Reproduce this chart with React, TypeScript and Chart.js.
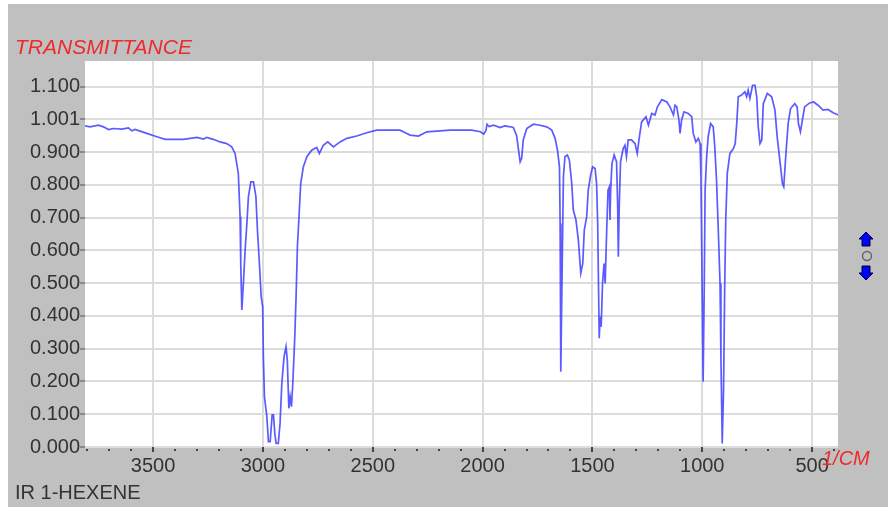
import { useEffect, useRef } from 'react';
import { Chart, registerables } from 'chart.js';

Chart.register(...registerables);

const wavenumbers = [
  3810, 3787, 3749, 3726, 3703, 3681, 3642, 3612, 3597, 3582, 3529, 3483, 3445, 3362, 3301, 3271, 3256, 3226,
  3195, 3165, 3142, 3127, 3112, 3104, 3101, 3096, 3089, 3081, 3073, 3066, 3055, 3043, 3032, 3025, 3016, 3008,
  3001, 2998, 2993, 2982, 2975, 2967, 2958, 2952, 2946, 2940, 2930, 2922, 2914, 2904, 2895, 2889, 2882, 2876,
  2870, 2864, 2855, 2849, 2843, 2835, 2828, 2816, 2800, 2778, 2755, 2743, 2725, 2705, 2679, 2649, 2618, 2573,
  2527, 2482, 2376, 2345, 2330, 2292, 2254, 2148, 2050, 2010, 1995, 1985, 1980, 1970, 1950, 1920, 1900, 1880,
  1860, 1845, 1835, 1829, 1822, 1815, 1799, 1769, 1739, 1708, 1685, 1670, 1659, 1650, 1647, 1644, 1639, 1635,
  1632, 1625, 1614, 1605, 1594, 1587, 1575, 1564, 1553, 1544, 1537, 1526, 1519, 1508, 1499, 1488, 1481, 1476,
  1472, 1469, 1465, 1460, 1454, 1447, 1442, 1435, 1429, 1423, 1420, 1417, 1411, 1401, 1390, 1385, 1382, 1378,
  1372, 1360, 1352, 1345, 1337, 1322, 1306, 1296, 1286, 1276, 1256, 1245, 1230, 1215, 1204, 1184, 1161, 1147,
  1131, 1124, 1116, 1106, 1101, 1094, 1083, 1064, 1048, 1041, 1029, 1018, 1010, 1006, 1002, 996, 991, 987,
  980, 973, 962, 950, 943, 935, 927, 919, 915, 909, 903, 898, 893, 886, 874, 858, 850, 843,
  836, 821, 806, 798, 791, 783, 771, 760, 752, 745, 737, 729, 722, 704, 684, 669, 659, 647,
  635, 629, 620, 609, 598, 579, 568, 562, 553, 544, 534, 511, 493, 473, 450, 428, 404, 381,
];

const transmittance = [
  0.980, 0.977, 0.982, 0.977, 0.969, 0.972, 0.970, 0.974, 0.965, 0.969, 0.957, 0.947, 0.939, 0.939, 0.945, 0.940, 0.945, 0.939,
  0.931, 0.926, 0.916, 0.896, 0.835, 0.703, 0.560, 0.418, 0.499, 0.601, 0.682, 0.764, 0.809, 0.809, 0.764, 0.662, 0.560, 0.459,
  0.428, 0.275, 0.153, 0.092, 0.016, 0.016, 0.098, 0.098, 0.042, 0.011, 0.011, 0.072, 0.194, 0.275, 0.306, 0.265, 0.118, 0.153,
  0.123, 0.194, 0.336, 0.459, 0.611, 0.713, 0.804, 0.855, 0.886, 0.906, 0.914, 0.896, 0.921, 0.931, 0.916, 0.931, 0.942, 0.949,
  0.959, 0.967, 0.967, 0.957, 0.952, 0.949, 0.962, 0.967, 0.967, 0.962, 0.955, 0.965, 0.985, 0.978, 0.982, 0.975, 0.980, 0.978,
  0.975, 0.950, 0.900, 0.870, 0.881, 0.937, 0.972, 0.985, 0.982, 0.977, 0.967, 0.942, 0.906, 0.855, 0.682, 0.230, 0.479, 0.682,
  0.825, 0.886, 0.891, 0.876, 0.804, 0.723, 0.693, 0.632, 0.530, 0.560, 0.662, 0.703, 0.784, 0.830, 0.855, 0.850, 0.804, 0.682,
  0.479, 0.332, 0.398, 0.367, 0.499, 0.560, 0.499, 0.662, 0.784, 0.794, 0.693, 0.784, 0.865, 0.891, 0.870, 0.733, 0.581, 0.733,
  0.870, 0.911, 0.921, 0.886, 0.937, 0.937, 0.926, 0.896, 0.947, 0.992, 1.008, 0.982, 1.018, 1.013, 1.038, 1.060, 1.053, 1.038,
  1.013, 1.043, 1.038, 0.998, 0.957, 0.998, 1.023, 1.018, 1.008, 0.957, 0.931, 0.942, 0.926, 0.825, 0.581, 0.199, 0.479, 0.784,
  0.886, 0.947, 0.987, 0.977, 0.916, 0.815, 0.662, 0.499, 0.275, 0.011, 0.174, 0.479, 0.693, 0.835, 0.896, 0.911, 0.926, 0.987,
  1.069, 1.074, 1.084, 1.069, 1.089, 1.064, 1.104, 1.104, 1.069, 0.977, 0.926, 0.937, 1.048, 1.079, 1.069, 1.028, 0.947, 0.876,
  0.804, 0.794, 0.886, 0.987, 1.033, 1.048, 1.038, 0.987, 0.962, 0.998, 1.038, 1.050, 1.053, 1.043, 1.028, 1.030, 1.020, 1.013,
];

const yTickValues = [0, 0.1, 0.2, 0.3, 0.4, 0.5, 0.6, 0.7, 0.8, 0.9, 1.0, 1.1];
const yTickLabels = ['0.000', '0.100', '0.200', '0.300', '0.400', '0.500', '0.600', '0.700', '0.800', '0.900', '1.001', '1.100'];
const xTickValues = [3500, 3000, 2500, 2000, 1500, 1000, 500];
const xMinorTicks = [
  3800, 3700, 3600, 3400, 3300, 3200, 3100, 2900, 2800, 2700, 2600, 2400, 2300, 2200, 2100,
  1900, 1800, 1700, 1600, 1400, 1300, 1200, 1100, 900, 800, 700, 600, 400,
];

const yTitle = 'TRANSMITTANCE';
const xTitle = '1/CM';
const chartLabel = 'IR 1-HEXENE';

const FONT = '"Liberation Sans", Arial, sans-serif';

export default function App() {
  const ref = useRef<HTMLCanvasElement>(null);

  useEffect(() => {
    if (!ref.current) return;

    const overlay = {
      id: 'overlay',
      beforeDraw(chart: any) {
        const { ctx, chartArea: a } = chart;
        ctx.save();
        ctx.fillStyle = '#ffffff';
        ctx.fillRect(a.left, a.top, a.right - a.left, a.bottom - a.top);
        ctx.restore();
      },
      afterDraw(chart: any) {
        const { ctx, chartArea: a } = chart;
        const xs = chart.scales.x;
        ctx.save();
        // x tick marks
        ctx.fillStyle = '#444';
        xTickValues.forEach((v) => {
          const px = Math.round(xs.getPixelForValue(v));
          ctx.fillRect(px - 1, a.bottom, 2, 5);
        });
        xMinorTicks.forEach((v) => {
          const px = Math.round(xs.getPixelForValue(v));
          ctx.fillRect(px - 1, a.bottom + 2, 2, 2);
        });
        // titles
        ctx.textBaseline = 'middle';
        ctx.textAlign = 'left';
        ctx.fillStyle = '#ee2a2a';
        ctx.font = `italic 21px ${FONT}`;
        ctx.fillText(yTitle, 7, 44);
        ctx.font = `italic 20px ${FONT}`;
        ctx.fillText(xTitle, 814, 455);
        ctx.fillStyle = '#333333';
        ctx.font = `20px ${FONT}`;
        ctx.fillText(chartLabel, 7, 489);
        // scroll arrows
        const cx = 858;
        ctx.fillStyle = '#0000ff';
        ctx.strokeStyle = '#000033';
        ctx.lineWidth = 1;
        ctx.beginPath();
        ctx.moveTo(cx, 228);
        ctx.lineTo(cx + 7, 235);
        ctx.lineTo(cx + 4, 235);
        ctx.lineTo(cx + 4, 242);
        ctx.lineTo(cx - 4, 242);
        ctx.lineTo(cx - 4, 235);
        ctx.lineTo(cx - 7, 235);
        ctx.closePath();
        ctx.fill();
        ctx.stroke();
        ctx.beginPath();
        ctx.moveTo(cx, 276);
        ctx.lineTo(cx + 7, 269);
        ctx.lineTo(cx + 4, 269);
        ctx.lineTo(cx + 4, 262);
        ctx.lineTo(cx - 4, 262);
        ctx.lineTo(cx - 4, 269);
        ctx.lineTo(cx - 7, 269);
        ctx.closePath();
        ctx.fill();
        ctx.stroke();
        ctx.beginPath();
        ctx.strokeStyle = '#666';
        ctx.lineWidth = 1.5;
        ctx.arc(cx + 1, 252, 4.5, 0, Math.PI * 2);
        ctx.stroke();
        ctx.restore();
      },
    };

    const chart = new Chart(ref.current, {
      type: 'line',
      data: {
        datasets: [
          {
            data: wavenumbers.map((w, i) => ({ x: w, y: transmittance[i] })),
            borderColor: 'rgba(55,55,255,0.82)',
            borderWidth: 1.7,
            pointRadius: 0,
            fill: false,
            tension: 0,
          },
        ],
      },
      options: {
        responsive: false,
        maintainAspectRatio: false,
        animation: false,
        events: [],
        layout: { padding: { left: 0, top: 57, right: 50, bottom: 20 } },
        plugins: { legend: { display: false }, tooltip: { enabled: false } },
        scales: {
          x: {
            type: 'linear',
            reverse: true,
            min: 382,
            max: 3810,
            afterBuildTicks: (s: any) => {
              s.ticks = xTickValues.map((v) => ({ value: v }));
            },
            afterFit: (s: any) => {
              s.height = 40;
            },
            grid: { color: '#dcdcdc', lineWidth: 2, drawTicks: false },
            border: { display: false },
            ticks: {
              color: '#333',
              font: { family: FONT, size: 20 },
              padding: 7,
              maxRotation: 0,
              autoSkip: false,
              callback: (v: any) => String(v),
            },
          },
          y: {
            min: 0,
            max: 1.178,
            afterBuildTicks: (s: any) => {
              s.ticks = yTickValues.map((v) => ({ value: v }));
            },
            afterFit: (s: any) => {
              s.width = 77;
            },
            grid: { color: '#dcdcdc', lineWidth: 2, tickLength: 5, tickColor: '#555', tickWidth: 1 },
            border: { display: false },
            ticks: {
              color: '#333',
              font: { family: FONT, size: 20 },
              padding: 0,
              autoSkip: false,
              callback: (_v: any, i: number) => yTickLabels[i],
            },
          },
        },
      },
      plugins: [overlay],
    });

    return () => chart.destroy();
  }, []);

  return (
    <div style={{ position: 'absolute', left: 8, top: 4, width: 880, height: 503, background: '#c0c0c0' }}>
      <canvas ref={ref} width={880} height={503} style={{ display: 'block' }} />
    </div>
  );
}
